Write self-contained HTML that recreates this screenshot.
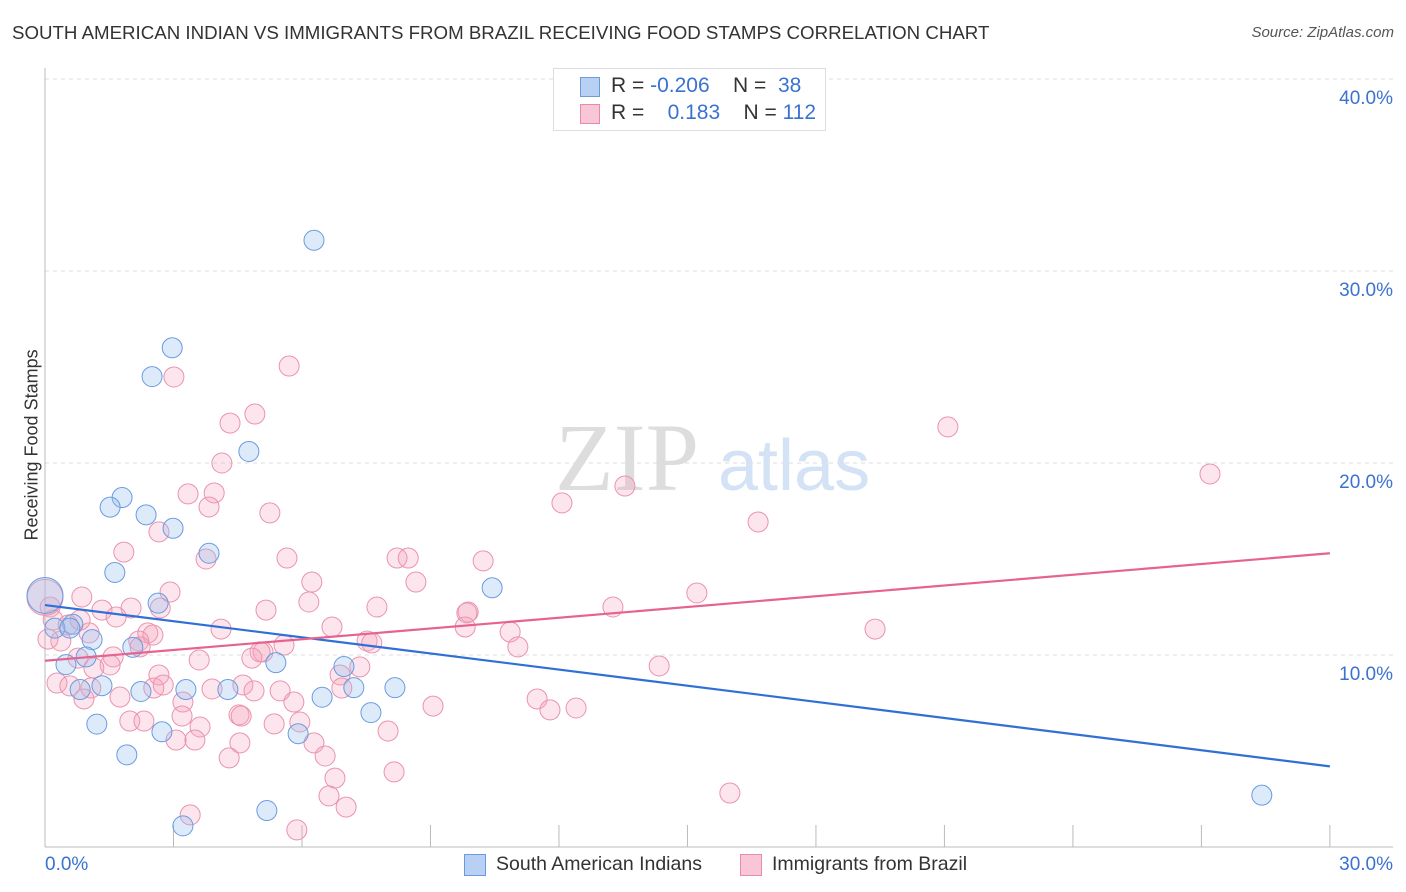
<!DOCTYPE html>
<html><head><meta charset="utf-8"><style>
body{margin:0;background:#fff;font-family:"Liberation Sans",sans-serif}
#wrap{position:relative;width:1406px;height:892px;overflow:hidden}
.t{position:absolute;white-space:nowrap}
</style></head><body>
<div id="wrap">
<div class="t" style="left:12px;top:22px;font-size:18.7px;color:#333">SOUTH AMERICAN INDIAN VS IMMIGRANTS FROM BRAZIL RECEIVING FOOD STAMPS CORRELATION CHART</div>
<div class="t" style="right:12px;top:24px;font-size:15px;color:#555;font-style:italic">Source: ZipAtlas.com</div>
<div class="t" style="left:-53px;top:445px;font-size:18px;color:#333;transform:rotate(-90deg);width:170px;text-align:center">Receiving Food Stamps</div>
<svg id="svg" width="1406" height="892" style="position:absolute;left:0;top:0"></svg>
<div style="position:absolute;left:553px;top:68px;width:271px;height:61px;border:1px solid #ddd;background:#fff;font-size:21px;color:#333">
 <div style="position:absolute;left:26px;top:8px;width:18px;height:18px;background:#b8d0f3;border:1px solid #6a9be0"></div>
 <div class="t" style="left:57px;top:5px">R = <span style="color:#3a72d0">-0.206</span>&nbsp;&nbsp;&nbsp; N = &nbsp;<span style="color:#3a72d0">38</span></div>
 <div style="position:absolute;left:26px;top:35px;width:18px;height:18px;background:#f8c6d6;border:1px solid #e88aa8"></div>
 <div class="t" style="left:57px;top:32px">R = &nbsp;&nbsp; <span style="color:#3a72d0">0.183</span>&nbsp;&nbsp;&nbsp; N = <span style="color:#3a72d0">112</span></div>
</div>
<div style="position:absolute;left:464px;top:853px;font-size:19.5px;color:#333">
 <div style="position:absolute;left:0;top:1px;width:20px;height:20px;background:#b8d0f3;border:1px solid #6a9be0"></div>
 <div class="t" style="left:32px;top:0">South American Indians</div>
 <div style="position:absolute;left:276px;top:1px;width:20px;height:20px;background:#f8c6d6;border:1px solid #e88aa8"></div>
 <div class="t" style="left:308px;top:0">Immigrants from Brazil</div>
</div>
</div>
<script>
const yTicks=[10,20,30,40];
const yTickLabels=["10.0%","20.0%","30.0%","40.0%"];
const xTickVals=[3,6,9,12,15,18,21,24,27,30];
const blueX=[6.28,2.97,2.50,4.76,1.80,1.52,2.36,2.99,3.83,1.63,2.64,10.44,0.0,0.65,0.23,1.10,0.96,0.49,2.05,5.39,6.98,1.33,0.82,2.24,3.29,4.27,6.47,7.21,8.17,7.61,1.21,2.73,5.91,1.91,3.22,5.18,28.41,0.58];
const blueY=[31.6,26.0,24.5,20.6,18.2,17.7,17.3,16.6,15.3,14.3,12.7,13.5,13.1,11.6,11.4,10.8,9.9,9.5,10.4,9.6,9.4,8.4,8.2,8.1,8.2,8.2,7.8,8.3,8.3,7.0,6.4,6.0,5.9,4.8,1.1,1.9,2.7,11.4];
const pinkX=[5.70,3.01,4.90,4.32,4.13,3.34,3.95,3.83,21.08,27.20,13.54,12.07,16.65,5.25,2.66,1.84,3.76,5.65,8.22,8.48,10.23,6.23,8.66,2.92,0.86,0.12,1.33,2.01,1.66,5.16,7.75,13.26,15.22,9.88,9.85,6.16,4.11,6.70,9.81,10.86,19.38,2.40,2.52,1.03,0.37,0.07,7.52,7.63,5.58,5.09,5.02,11.04,2.19,2.22,1.59,0.77,1.52,1.14,3.60,4.83,14.34,7.35,2.66,6.89,0.28,0.58,1.07,2.54,2.76,3.90,4.62,4.88,5.49,6.93,1.75,0.91,3.22,5.81,9.06,11.49,11.79,12.40,1.98,2.31,3.20,4.53,4.58,5.35,5.95,3.62,3.50,3.06,8.01,4.55,6.28,4.30,6.54,6.77,8.15,6.63,7.03,3.39,5.88,15.99,2.69,0.19,0.82,0.54,0.0];
const pinkY=[25.05,24.48,22.55,22.08,20.0,18.39,18.44,17.71,21.88,19.43,18.80,17.92,16.93,17.40,16.41,15.36,15.0,15.05,15.05,15.05,14.90,13.80,13.80,13.28,13.02,12.5,12.34,12.45,11.98,12.34,12.5,12.5,13.23,12.24,12.19,12.76,11.35,11.46,11.46,11.20,11.35,11.15,11.04,11.15,10.73,10.83,10.73,10.63,10.52,10.16,10.16,10.42,10.73,10.42,9.90,9.84,9.48,9.32,9.74,9.84,9.43,9.38,8.96,8.96,8.54,8.39,8.28,8.28,8.44,8.23,8.44,8.13,8.13,8.28,7.81,7.71,7.55,7.55,7.34,7.71,7.14,7.24,6.56,6.56,6.82,6.88,6.82,6.41,6.51,6.25,5.57,5.57,6.04,5.42,5.42,4.64,4.74,3.59,3.91,2.66,2.08,1.67,0.89,2.81,12.45,11.82,11.82,11.56,13.0];
const blueTrend=[12.6,4.2];
const pinkTrend=[9.7,15.3];
const trendX=[0,30];

const svg=document.getElementById('svg');const NS='http://www.w3.org/2000/svg';
const sx=v=>45+v*42.83, sy=v=>847-v*19.2;
function mk(t,a,name){const e=document.createElementNS(NS,t);for(const k in a)e.setAttribute(k,a[k]);


svg.appendChild(e);return e;}
yTicks.forEach((v,i)=>{mk('line',{x1:45,x2:1393,y1:sy(v),y2:sy(v),stroke:'#ddd','stroke-dasharray':'4,4'},'gridline');
const t=mk('text',{x:1393,y:sy(v)+25,'text-anchor':'end','font-size':19,fill:'#3a72d0','font-family':'Liberation Sans'},'y-tick-label');t.textContent=yTickLabels[i];});
mk('line',{x1:45,x2:45,y1:68,y2:847,stroke:'#bbb'},'y-axis');
mk('line',{x1:45,x2:1393,y1:847,y2:847,stroke:'#bbb'},'x-axis');
xTickVals.forEach(v=>mk('line',{x1:sx(v),x2:sx(v),y1:825,y2:847,stroke:'#bbb'},'x-tick'));
let t=mk('text',{x:45,y:870,'font-size':19,fill:'#3a72d0','font-family':'Liberation Sans'},'x-min-label');t.textContent='0.0%';
t=mk('text',{x:1393,y:870,'text-anchor':'end','font-size':19,fill:'#3a72d0','font-family':'Liberation Sans'},'x-max-label');t.textContent='30.0%';
t=mk('text',{x:555,y:490,'font-size':96,fill:'#ddd','font-family':'Liberation Serif'},'watermark-zip');t.textContent='ZIP';
t=mk('text',{x:718,y:490,'font-size':72,fill:'#d4e2f5','font-family':'Liberation Sans'},'watermark-atlas');t.textContent='atlas';
pinkX.forEach((x,i)=>mk('circle',{cx:sx(x),cy:sy(pinkY[i]),r:i==pinkX.length-1?18:10,fill:'rgba(245,160,185,0.28)',stroke:'#eb93ae','stroke-width':1},'pink-point'));
blueX.forEach((x,i)=>mk('circle',{cx:sx(x),cy:sy(blueY[i]),r:i==12?18:10,fill:'rgba(150,190,240,0.32)',stroke:'#6a9be0','stroke-width':1},'blue-point'));
mk('line',{x1:sx(trendX[0]),x2:sx(trendX[1]),y1:sy(blueTrend[0]),y2:sy(blueTrend[1]),stroke:'#2f6fd6','stroke-width':2.2},'blue-trendline');
mk('line',{x1:sx(trendX[0]),x2:sx(trendX[1]),y1:sy(pinkTrend[0]),y2:sy(pinkTrend[1]),stroke:'#e5638e','stroke-width':2.2},'pink-trendline');
</script>
</body></html>
